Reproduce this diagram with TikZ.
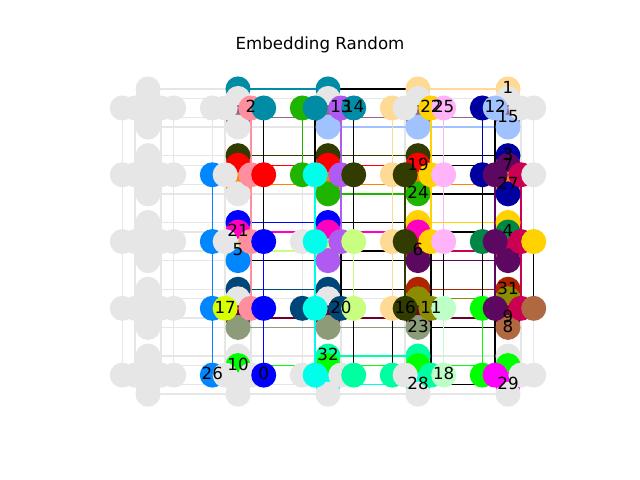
\documentclass[tikz,border=0pt]{standalone}
\usepackage{fontspec}
\setmainfont{DejaVu Sans}

\definecolor{ch99}{RGB}{230,230,230}
\definecolor{ch0}{RGB}{0,0,255}
\definecolor{ch1}{RGB}{255,218,148}
\definecolor{ch2}{RGB}{255,143,158}
\definecolor{ch3}{RGB}{0,0,160}
\definecolor{ch4}{RGB}{0,135,70}
\definecolor{ch5}{RGB}{200,255,128}
\definecolor{ch6}{RGB}{204,0,82}
\definecolor{ch7}{RGB}{92,8,96}
\definecolor{ch8}{RGB}{176,104,64}
\definecolor{ch9}{RGB}{110,0,40}
\definecolor{ch10}{RGB}{0,255,0}
\definecolor{ch11}{RGB}{140,140,0}
\definecolor{ch12}{RGB}{160,195,255}
\definecolor{ch13}{RGB}{175,90,240}
\definecolor{ch14}{RGB}{0,140,165}
\definecolor{ch15}{RGB}{150,100,140}
\definecolor{ch16}{RGB}{50,60,0}
\definecolor{ch17}{RGB}{215,255,0}
\definecolor{ch18}{RGB}{190,255,200}
\definecolor{ch19}{RGB}{255,0,0}
\definecolor{ch20}{RGB}{0,70,120}
\definecolor{ch21}{RGB}{255,0,190}
\definecolor{ch22}{RGB}{255,210,0}
\definecolor{ch23}{RGB}{140,155,120}
\definecolor{ch24}{RGB}{30,180,0}
\definecolor{ch25}{RGB}{255,180,250}
\definecolor{ch26}{RGB}{0,135,255}
\definecolor{ch27}{RGB}{255,130,0}
\definecolor{ch28}{RGB}{0,255,235}
\definecolor{ch29}{RGB}{255,0,255}
\definecolor{ch31}{RGB}{175,35,0}
\definecolor{ch32}{RGB}{0,255,160}

\newcommand\seth[6]{%
  \expandafter\def\csname Q#1#2h0\endcsname{#3}%
  \expandafter\def\csname Q#1#2h1\endcsname{#4}%
  \expandafter\def\csname Q#1#2h2\endcsname{#5}%
  \expandafter\def\csname Q#1#2h3\endcsname{#6}}
\newcommand\setv[6]{%
  \expandafter\def\csname Q#1#2v0\endcsname{#3}%
  \expandafter\def\csname Q#1#2v1\endcsname{#4}%
  \expandafter\def\csname Q#1#2v2\endcsname{#5}%
  \expandafter\def\csname Q#1#2v3\endcsname{#6}}
\newcommand\qid[4]{\csname Q#1#2#3#4\endcsname}
\def\graycol{ch99}
\newif\ifgraypass
\newcommand\pickcol[2]{%
  \ifnum#1=99 \edef\ecol{ch99}\else
  \ifnum#2=99 \edef\ecol{ch99}\else
  \ifnum#1=#2 \edef\ecol{ch#1}\else\edef\ecol{black}\fi\fi\fi}
\newcommand\chainedge[4]{%
  \pickcol{#3}{#4}%
  \ifx\ecol\graycol
    \ifgraypass\draw[edgeline,draw=ch99] (#1) -- (#2);\fi
  \else
    \ifgraypass\else\draw[edgeline,draw=\ecol] (#1) -- (#2);\fi
  \fi}

% chain id of every qubit (99 = unused)
\seth{0}{0}{99}{99}{99}{99}\setv{0}{0}{99}{99}{99}{99}
\seth{1}{0}{99}{99}{99}{99}\setv{1}{0}{99}{99}{99}{99}
\seth{2}{0}{99}{99}{99}{99}\setv{2}{0}{99}{99}{99}{99}
\seth{3}{0}{99}{99}{99}{99}\setv{3}{0}{99}{99}{99}{99}
\seth{4}{0}{99}{99}{99}{99}\setv{4}{0}{99}{99}{99}{99}
\seth{0}{1}{99}{99}{2}{14}\setv{0}{1}{14}{99}{15}{99}
\seth{0}{2}{24}{14}{13}{14}\setv{0}{2}{14}{99}{15}{12}
\seth{0}{3}{1}{99}{22}{25}\setv{0}{3}{1}{99}{15}{12}
\seth{0}{4}{3}{12}{99}{99}\setv{0}{4}{1}{99}{15}{12}
\seth{1}{1}{26}{99}{2}{19}\setv{1}{1}{16}{19}{27}{99}
\seth{1}{2}{24}{28}{13}{16}\setv{1}{2}{16}{19}{27}{24}
\seth{1}{3}{1}{16}{22}{25}\setv{1}{3}{16}{19}{27}{24}
\seth{1}{4}{3}{7}{6}{99}\setv{1}{4}{3}{7}{27}{3}
\seth{2}{1}{26}{99}{2}{0}\setv{2}{1}{0}{21}{5}{26}
\seth{2}{2}{99}{28}{13}{5}\setv{2}{2}{0}{21}{5}{13}
\seth{2}{3}{1}{16}{22}{25}\setv{2}{3}{22}{21}{6}{7}
\seth{2}{4}{4}{7}{6}{22}\setv{2}{4}{22}{4}{6}{7}
\seth{3}{1}{26}{17}{2}{0}\setv{3}{1}{20}{99}{9}{23}
\seth{3}{2}{20}{28}{20}{5}\setv{3}{2}{20}{99}{9}{23}
\seth{3}{3}{1}{16}{11}{18}\setv{3}{3}{31}{11}{9}{23}
\seth{3}{4}{10}{7}{6}{8}\setv{3}{4}{31}{11}{9}{8}
\seth{4}{1}{26}{99}{99}{0}\setv{4}{1}{99}{10}{99}{99}
\seth{4}{2}{99}{28}{99}{32}\setv{4}{2}{32}{10}{28}{99}
\seth{4}{3}{32}{99}{32}{18}\setv{4}{3}{32}{10}{28}{99}
\seth{4}{4}{10}{29}{99}{99}\setv{4}{4}{99}{10}{29}{99}

\newcommand\alledges{%
% couplers between horizontally adjacent cells
\foreach \i in {0,...,4}{
 \foreach \j in {0,...,3}{
  \foreach \k in {0,...,3}{
   \pgfmathtruncatemacro\jj{\j+1}
   \edef\a{\qid{\i}{\j}{v}{\k}}
   \edef\b{\qid{\i}{\jj}{v}{\k}}
   \chainedge{v-\i-\j-\k}{v-\i-\jj-\k}{\a}{\b}
 }}}
% couplers between vertically adjacent cells
\foreach \i in {0,...,3}{
 \foreach \j in {0,...,4}{
  \foreach \k in {0,...,3}{
   \pgfmathtruncatemacro\ii{\i+1}
   \edef\a{\qid{\i}{\j}{h}{\k}}
   \edef\b{\qid{\ii}{\j}{h}{\k}}
   \chainedge{h-\i-\j-\k}{h-\ii-\j-\k}{\a}{\b}
 }}}
% couplers inside each cell
\foreach \i in {0,...,4}{
 \foreach \j in {0,...,4}{
  \foreach \k in {0,...,3}{
   \foreach \m in {0,...,3}{
    \edef\a{\qid{\i}{\j}{h}{\k}}
    \edef\b{\qid{\i}{\j}{v}{\m}}
    \chainedge{h-\i-\j-\k}{v-\i-\j-\m}{\a}{\b}
 }}}}%
}

\begin{document}
\begin{tikzpicture}[x=0.72pt,y=-0.72pt,
  edgeline/.style={line width=1pt},
  qubit/.style={circle,inner sep=0pt,minimum size=18pt,draw=none},
  lab/.style={font=\fontsize{12}{14}\selectfont,anchor=base,inner sep=0pt,text=black}]
\fill[white] (0,0) rectangle (640,480);
\useasboundingbox (0,0) rectangle (640,480);
\node[lab] (title) at (320,49.3) {Embedding Random};

% qubit positions
\foreach \i in {0,...,4}{
 \foreach \j in {0,...,4}{
  \foreach \k in {0,...,3}{
   \pgfmathsetmacro\p{\k<2 ? \k : \k+1}
   \pgfmathsetmacro\hx{122.3+12.857*(7*\j+\p)}
   \pgfmathsetmacro\hy{88.9+9.54*(7*\i+2)}
   \pgfmathsetmacro\vx{122.3+12.857*(7*\j+2)}
   \pgfmathsetmacro\vy{88.9+9.54*(7*\i+\p)}
   \coordinate (h-\i-\j-\k) at (\hx,\hy);
   \coordinate (v-\i-\j-\k) at (\vx,\vy);
 }}}

% unused couplers first, then chain and interaction couplers
\graypasstrue
\alledges
\graypassfalse
\alledges

% qubits, in drawing order
\foreach \i in {0,...,4}{
 \foreach \j in {0,...,4}{
  \foreach \ar/\k in {h/0,v/0,v/1,v/2,v/3,h/1,h/2,h/3}{
   \edef\c{\qid{\i}{\j}{\ar}{\k}}
   \node[qubit,fill=ch\c] (q\ar-\i-\j-\k) at (\ar-\i-\j-\k) {};
 }}}

% chain labels
\foreach \nm/\txt in {h-4-1-3/0,v-0-4-0/1,h-0-1-2/2,v-1-4-0/3,v-2-4-1/4,
  v-2-1-2/5,v-2-3-2/6,v-1-4-1/7,v-3-4-3/8,v-3-4-2/9,v-4-1-1/10,h-3-3-2/11,
  h-0-4-1/12,h-0-2-2/13,h-0-2-3/14,v-0-4-2/15,h-3-3-1/16,h-3-1-1/17,
  h-4-3-3/18,v-1-3-1/19,h-3-2-2/20,v-2-1-1/21,h-0-3-2/22,v-3-3-3/23,
  v-1-3-3/24,h-0-3-3/25,h-4-1-0/26,v-1-4-2/27,v-4-3-2/28,v-4-4-2/29,
  v-3-4-0/31,v-4-2-0/32}{
  \path (\nm) ++(0,4.8) node[lab] (lab-\txt) {\txt};
}
\end{tikzpicture}
\end{document}
